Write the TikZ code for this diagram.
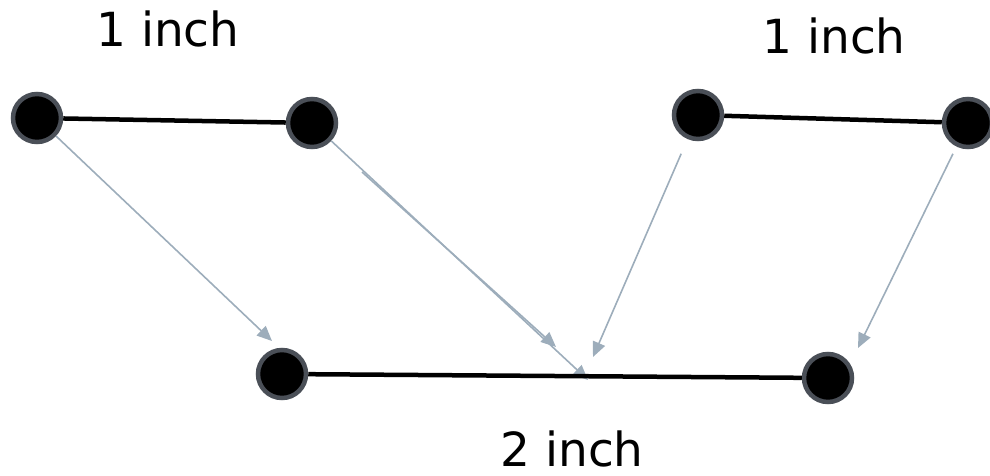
\documentclass[tikz,border=0pt]{standalone}
\usepackage{fontspec}
\setsansfont{DejaVu Sans}
\usetikzlibrary{arrows.meta, positioning}
\definecolor{dotrim} {HTML}{4A4F57}
\definecolor{pointgray}{HTML}{9DADBB}
\tikzset{
  dot/.style={circle, fill=black, draw=dotrim, line width=4.5pt, minimum size=48pt, inner sep=0pt},
  bar/.style={line width=4.5pt, black},
  pointer/.style={draw=pointgray, line width=1.6pt, -{Triangle[length=15pt, width=13pt, fill=pointgray]}},
  caption/.style={font=\sffamily\fontsize{47}{52}\selectfont, inner sep=0pt}
}

\begin{document}
\begin{tikzpicture}[x=1pt, y=-1pt]
      \useasboundingbox (0,0) rectangle (990,476);
      % arrow ends
      \coordinate (t1) at (272,341);
      \coordinate (t2) at (588,380);
      \coordinate (s3) at (362,172);
      \coordinate (t3) at (556,347);
      \coordinate (t4) at (593,357);
      \coordinate (t5) at (858,348);
      % dots
      \node[dot] (a1) at (37,118) {};
      \node[dot] (a2) at (312,123) {};
      \node[dot] (b1) at (698,115) {};
      \node[dot] (b2) at (968,123) {};
      \node[dot] (c1) at (282,374) {};
      \node[dot] (c2) at (828,378) {};
      % labels
      \node[caption] (la) at (168,29) {1 inch};
      \node[caption] (lb) at (834,36) {1 inch};
      \node[caption] (lc) at (572,449) {2 inch};
      % pointers
      \draw[pointer] (a1) -- (t1);
      \draw[pointer] (a2) -- (t2);
      \draw[pointer] (s3) -- (t3);
      \draw[pointer, shorten <=16pt] (b1) -- (t4);
      \draw[pointer, shorten <=8pt] (b2) -- (t5);
      % bars
      \draw[bar] (a1) -- (a2);
      \draw[bar] (b1) -- (b2);
      \draw[bar] (c1) -- (c2);
    \end{tikzpicture}
\end{document}
